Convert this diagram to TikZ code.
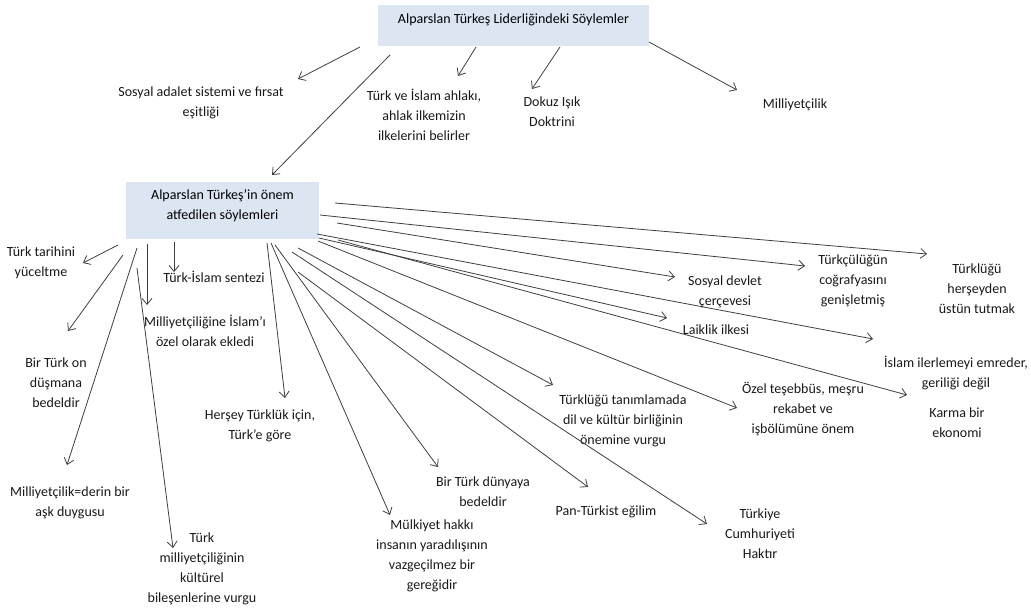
\documentclass[tikz,border=0pt]{standalone}
\usepackage{fontspec}
\setmainfont{Carlito}
\usetikzlibrary{arrows.meta}
\definecolor{boxblue}{HTML}{DCE6F2}
\definecolor{inkgray}{HTML}{3F3F3F}
\tikzset{
    headbox/.style={fill=boxblue, minimum width=271pt, inner sep=0pt, text height=18.5pt, text depth=22.5pt},
    subbox/.style={fill=boxblue, minimum width=193pt, inner sep=0pt, align=center, text height=37.5pt, text depth=19.5pt},
    txt/.style={align=center, inner sep=0pt, text=black!90},
    arr/.style={->, draw=inkgray, line width=0.8pt}
}

\begin{document}
\begin{tikzpicture}[x=1pt, y=-1pt, font=\fontsize{14pt}{20pt}\selectfont, >={Straight Barb[length=6pt, width=10pt]}]
  \useasboundingbox (0,0) rectangle (1031,609);

  \node(B1)[headbox] at (513.5,25.5){Alparslan Türkeş Liderliğindeki Söylemler};
  \node(B2)[subbox] at (222.5,210.5){Alparslan Türkeş’in önem\\atfedilen söylemleri};

  % first level
  \node(SA)[txt] at (201,103){Sosyal adalet sistemi ve fırsat\\eşitliği};
  \node(TI)[txt] at (424,115){Türk ve İslam ahlakı,\\ahlak ilkemizin\\ilkelerini belirler};
  \node(DI)[txt] at (552,112){Dokuz Işık\\Doktrini};
  \node(MI)[txt] at (795,105){Milliyetçilik};

  % second level
  \node(TT)[txt] at (41,263){Türk tarihini\\yüceltme};
  \node(TS)[txt] at (214,277){Türk-İslam sentezi};
  \node(MIE)[txt] at (205,331){Milliyetçiliğine İslam’ı\\özel olarak ekledi};
  \node(BTO)[txt] at (56,383){Bir Türk on\\düşmana\\bedeldir};
  \node(HT)[txt] at (260,426){Herşey Türklük için,\\Türk’e göre};
  \node(MDA)[txt] at (70,503){Milliyetçilik=derin bir\\aşk duygusu};
  \node(TMK)[txt] at (202,569){Türk\\milliyetçiliğinin\\kültürel\\bileşenlerine vurgu};
  \node(MH)[txt] at (432,556){Mülkiyet hakkı\\insanın yaradılışının\\vazgeçilmez bir\\gereğidir};
  \node(BTD)[txt] at (483,492){Bir Türk dünyaya\\bedeldir};
  \node(PT)[txt] at (606,512){Pan-Türkist eğilim};
  \node(TDK)[txt] at (623,421){Türklüğü tanımlamada\\dil ve kültür birliğinin\\önemine vurgu};
  \node(TC)[txt] at (760,534){Türkiye\\Cumhuriyeti\\Haktır};
  \node(OT)[txt] at (803,409){Özel teşebbüs, meşru\\rekabet ve\\işbölümüne önem};
  \node(KE)[txt] at (957,423){Karma bir\\ekonomi};
  \node(LI)[txt] at (716,330){Laiklik ilkesi};
  \node(II)[txt] at (956,373){İslam ilerlemeyi emreder,\\geriliği değil};
  \node(SD)[txt] at (725,292){Sosyal devlet\\çerçevesi};
  \node(TCG)[txt] at (853,281){Türkçülüğün\\coğrafyasını\\genişletmiş};
  \node(THU)[txt] at (977,289){Türklüğü\\herşeyden\\üstün tutmak};

  % arrow ends from B1
  \coordinate(b1sa) at (360,47);  \coordinate(tsa) at (298,79);
  \coordinate(b1b2) at (390,55);  \coordinate(tb2) at (272,175);
  \coordinate(b1ti) at (476,47);  \coordinate(tti) at (458,76);
  \coordinate(b1di) at (560,47);  \coordinate(tdi) at (532,89);
  \coordinate(b1mi) at (649,42);  \coordinate(tmi) at (737,90);

  % arrow ends from B2
  \coordinate(b2tt) at (118,245);  \coordinate(ttt) at (83,263);
  \coordinate(b2bto) at (123,255); \coordinate(tbto) at (68,331);
  \coordinate(b2mda) at (137,248); \coordinate(tmda) at (67,465);
  \coordinate(b2tmk) at (137,268); \coordinate(ttmk) at (173,548);
  \coordinate(b2mie) at (147,244); \coordinate(tmie) at (147,305);
  \coordinate(b2ts) at (174,242);  \coordinate(tts) at (174,272);
  \coordinate(b2ht) at (267,243);  \coordinate(tht) at (285,398);
  \coordinate(b2mh) at (271,243);  \coordinate(tmh) at (390,515);
  \coordinate(b2btd) at (275,245); \coordinate(tbtd) at (438,467);
  \coordinate(b2tc) at (292,252);  \coordinate(ttc) at (707,524);
  \coordinate(b2pt) at (298,272);  \coordinate(tpt) at (588,487);
  \coordinate(b2tdk) at (298,248); \coordinate(ttdk) at (553,385);
  \coordinate(b2ot) at (318,241);  \coordinate(tot) at (737,408);
  \coordinate(b2ke) at (338,240);  \coordinate(tke) at (907,395);
  \coordinate(b2li) at (319,238);  \coordinate(tli) at (667,318);
  \coordinate(b2ii) at (317,234);  \coordinate(tii) at (873,339);
  \coordinate(b2sd) at (337,223);  \coordinate(tsd) at (675,277);
  \coordinate(b2tcg) at (320,215); \coordinate(ttcg) at (805,266);
  \coordinate(b2thu) at (335,203); \coordinate(tthu) at (927,254);

  \draw[arr](b1sa)--(tsa);
  \draw[arr](b1b2)--(tb2);
  \draw[arr](b1ti)--(tti);
  \draw[arr](b1di)--(tdi);
  \draw[arr](b1mi)--(tmi);

  \draw[arr](b2tt)--(ttt);
  \draw[arr](b2bto)--(tbto);
  \draw[arr](b2mda)--(tmda);
  \draw[arr](b2tmk)--(ttmk);
  \draw[arr](b2mie)--(tmie);
  \draw[arr](b2ts)--(tts);
  \draw[arr](b2ht)--(tht);
  \draw[arr](b2mh)--(tmh);
  \draw[arr](b2btd)--(tbtd);
  \draw[arr](b2tc)--(ttc);
  \draw[arr](b2pt)--(tpt);
  \draw[arr](b2tdk)--(ttdk);
  \draw[arr](b2ot)--(tot);
  \draw[arr](b2ke)--(tke);
  \draw[arr](b2li)--(tli);
  \draw[arr](b2ii)--(tii);
  \draw[arr](b2sd)--(tsd);
  \draw[arr](b2tcg)--(ttcg);
  \draw[arr](b2thu)--(tthu);

\end{tikzpicture}
\end{document}
